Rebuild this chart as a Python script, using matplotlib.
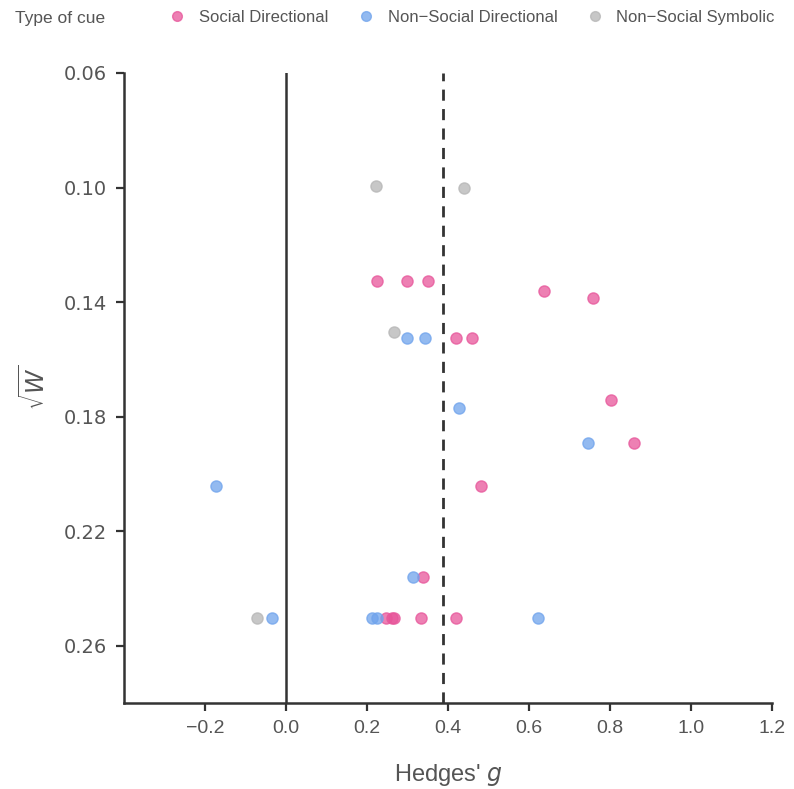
import matplotlib
matplotlib.use("Agg")
import matplotlib.pyplot as plt
from matplotlib.lines import Line2D

# ---- data ----
social_g = [0.225, 0.299, 0.350, 0.638, 0.759, 0.420, 0.460, 0.802, 0.861, 0.483, 0.339,
            0.247, 0.262, 0.266, 0.335, 0.421]
social_w = [0.1326, 0.1326, 0.1326, 0.1362, 0.1387, 0.1527, 0.1527, 0.1743, 0.1892, 0.2043, 0.2360,
            0.2503, 0.2503, 0.2503, 0.2503, 0.2503]
nonsoc_dir_g = [0.298, 0.344, 0.428, 0.747, -0.173, 0.314, -0.035, 0.212, 0.224, 0.623]
nonsoc_dir_w = [0.1527, 0.1527, 0.1770, 0.1892, 0.2043, 0.2360, 0.2503, 0.2503, 0.2503, 0.2503]
nonsoc_sym_g = [0.222, 0.439, 0.268, -0.072]
nonsoc_sym_w = [0.0996, 0.1001, 0.1506, 0.2503]
categories = ["Social Directional", "Non\u2212Social Directional", "Non\u2212Social Symbolic"]
legend_title = "Type of cue"
pooled_g = 0.388
x_ticks = [-0.2, 0.0, 0.2, 0.4, 0.6, 0.8, 1.0, 1.2]
y_ticks = [0.06, 0.10, 0.14, 0.18, 0.22, 0.26]

colors = ["#e7559a", "#6fa3ec", "#b5b5b5"]
series = [(social_g, social_w), (nonsoc_dir_g, nonsoc_dir_w), (nonsoc_sym_g, nonsoc_sym_w)]

plt.rcParams['font.family'] = ['Liberation Sans', 'DejaVu Sans']
txt = "#555555"
dark = "#333333"

fig = plt.figure(figsize=(7.94, 7.89), dpi=100)
ax = fig.add_axes([0.156, 0.109, 0.816, 0.7985])

ax.axvline(0, color=dark, lw=1.8, zorder=1)
ax.axvline(pooled_g, color=dark, lw=2.0, ls=(0, (4, 3)), zorder=1)

for (gx, wy), c in zip(series, colors):
    ax.scatter(gx, wy, s=65, color=c, alpha=0.75, edgecolors=c, linewidths=1.0, zorder=3)

ax.set_xlim(-0.4, 1.2)
ax.set_ylim(0.28, 0.06)
ax.set_xticks(x_ticks)
ax.set_xticklabels([f"{v:.1f}".replace("-", "\u2212") for v in x_ticks])
ax.set_yticks(y_ticks)
ax.set_yticklabels([f"{v:.2f}" for v in y_ticks], family=['DejaVu Sans'], fontsize=14)

for s in ["top", "right"]:
    ax.spines[s].set_visible(False)
for s in ["left", "bottom"]:
    ax.spines[s].set_color(dark)
    ax.spines[s].set_linewidth(1.8)
ax.tick_params(axis="both", colors=dark, labelcolor=txt, length=6, width=1.6, pad=6)
ax.tick_params(axis="x", labelsize=14)
ax.tick_params(axis="y", labelsize=14)

ax.set_xlabel("Hedges' $g$", fontsize=17, color=txt, labelpad=18)
ax.set_ylabel(r"$\sqrt{W}$", fontsize=17, color=txt, labelpad=10)

fig.text(15 / 794, 1 - 18 / 789, legend_title, fontsize=12.5, color=txt, ha="left", va="center")

handles = []
for c in colors:
    handles.append(Line2D([], [], linestyle="none", marker="o", markersize=7,
                          markerfacecolor=c, markeredgecolor=c, alpha=0.75))
leg = fig.legend(handles, categories, loc="upper left", bbox_to_anchor=(169 / 794, 1 - 10 / 789),
                 ncol=3, frameon=False, fontsize=12, handletextpad=0.8, columnspacing=1.75,
                 handlelength=1.0, borderpad=0, borderaxespad=0)
for t in leg.get_texts():
    t.set_color(txt)

fig.savefig("out.png", dpi=100, facecolor="white")
